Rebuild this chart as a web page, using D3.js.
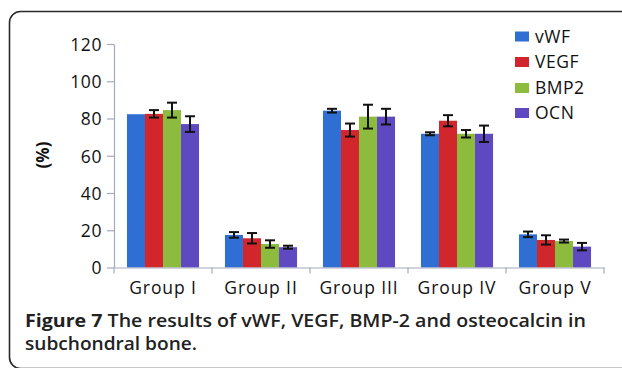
<!DOCTYPE html>
<html><head><meta charset="utf-8">
<script src="https://cdn.jsdelivr.net/npm/d3@7"></script>
<style>
body{margin:0;background:#fff;}
svg{display:block;}
text{font-family:"Open Sans",sans-serif;}
</style></head>
<body>
<svg id="c" width="622" height="368"></svg>
<script>
const groups = ["Group I","Group II","Group III","Group IV","Group V"];
const series = ["vWF","VEGF","BMP2","OCN"];
const colors = ["#2f6fd3","#d2262d","#8cbb3d","#5f49c0"];
const vWF  = [82.3, 17.5, 84.2, 71.8, 17.8];
const VEGF = [82.5, 15.7, 73.8, 78.8, 14.8];
const BMP2 = [84.5, 12.6, 81.0, 71.8, 14.2];
const OCN  = [77.0, 10.9, 81.0, 71.8, 11.2];
const vWFerr  = [0, 1.5, 1.0, 0.8, 1.5];
const VEGFerr = [2.0, 2.8, 3.5, 3.0, 2.5];
const BMP2err = [4.0, 2.0, 6.4, 2.0, 0.8];
const OCNerr  = [4.2, 0.8, 4.2, 4.4, 2.0];
const yTicks = [0,20,40,60,80,100,120];

const values = [vWF,VEGF,BMP2,OCN];
const errs = [vWFerr,VEGFerr,BMP2err,OCNerr];
const data = [];
groups.forEach((g,gi)=>series.forEach((s,si)=>data.push({g,s,si,v:values[si][gi],e:errs[si][gi]})));

const svg = d3.select("#c");
// frame
svg.append("rect").attr("x",9.5).attr("y",11.5).attr("width",700).attr("height",357)
  .attr("rx",11).attr("fill","none").attr("stroke","#2a2a2a").attr("stroke-width",1.6);

const x = d3.scaleBand().domain(groups).range([114,604]).padding(0);
const xi = d3.scaleBand().domain(series).range([0,x.bandwidth()]).paddingInner(0).paddingOuter(0.72);
const y = d3.scaleLinear().domain([0,120]).range([267.5,44]);
const axisCol = "#a3aac0";

// y axis
const ya = svg.append("g").attr("transform","translate(114,0)")
  .call(d3.axisLeft(y).tickValues(yTicks).tickSize(7).tickSizeOuter(0).tickPadding(5));
ya.select(".domain").attr("stroke",axisCol).attr("stroke-width",1.2);
ya.selectAll(".tick line").attr("stroke",axisCol).attr("stroke-width",1.2);
ya.selectAll(".tick text").attr("font-size",17.5).attr("fill","#111").attr("letter-spacing",0.6).attr("dy","0.36em");

// bars
svg.append("g").selectAll("rect").data(data).join("rect")
  .attr("x",d=>x(d.g)+xi(d.s)).attr("width",xi.bandwidth())
  .attr("y",d=>y(d.v)).attr("height",d=>y(0)-y(d.v))
  .attr("fill",d=>colors[d.si]);

// error bars
const eb = svg.append("g").attr("stroke","#111").attr("stroke-width",2);
data.filter(d=>d.e>0).forEach(d=>{
  const cx = x(d.g)+xi(d.s)+xi.bandwidth()/2;
  eb.append("line").attr("x1",cx).attr("x2",cx).attr("y1",y(d.v+d.e)).attr("y2",y(d.v-d.e));
  eb.append("line").attr("x1",cx-5).attr("x2",cx+5).attr("y1",y(d.v+d.e)).attr("y2",y(d.v+d.e));
  eb.append("line").attr("x1",cx-5).attr("x2",cx+5).attr("y1",y(d.v-d.e)).attr("y2",y(d.v-d.e));
});

// x axis
const xa = svg.append("g").attr("transform",`translate(0,${y(0)})`)
  .call(d3.axisBottom(x).tickSize(0).tickPadding(14));
xa.select(".domain").attr("stroke",axisCol).attr("stroke-width",1.2);
xa.selectAll(".tick text").attr("font-size",17.5).attr("fill","#111").attr("letter-spacing",0.9).attr("dy","0.71em");
const bounds = groups.map(g=>x(g)).concat([x(groups[groups.length-1])+x.bandwidth()]);
xa.selectAll("line.b").data(bounds).join("line").attr("class","b")
  .attr("x1",d=>d).attr("x2",d=>d).attr("y1",0).attr("y2",6)
  .attr("stroke",axisCol).attr("stroke-width",1.2);

// y title
svg.append("text").attr("transform","translate(49,155) rotate(-90)")
  .attr("text-anchor","middle").attr("font-size",17).attr("font-weight","bold").attr("fill","#111").text("(%)");

// legend
const lg = svg.append("g");
const lyc = [36.5,62,88,113];
series.forEach((s,i)=>{
  lg.append("rect").attr("x",515).attr("y",lyc[i]-5).attr("width",14).attr("height",10).attr("fill",colors[i]);
  lg.append("text").attr("x",535).attr("y",lyc[i]).attr("dy","0.36em").attr("font-size",17.5)
    .attr("letter-spacing",0.5).attr("fill","#111").text(s);
});

// caption
const c1 = svg.append("text").attr("x",25).attr("y",327).attr("font-size",17.5).attr("fill","#222")
  .attr("textLength",561).attr("lengthAdjust","spacingAndGlyphs");
c1.append("tspan").attr("font-weight","bold").text("Figure 7");
c1.append("tspan").attr("font-weight",600).text(" The results of vWF, VEGF, BMP-2 and osteocalcin in");
svg.append("text").attr("x",25).attr("y",350).attr("font-size",17.5).attr("fill","#222")
  .attr("font-weight",600).attr("textLength",172).attr("lengthAdjust","spacingAndGlyphs").text("subchondral bone.");
</script>
</body></html>
